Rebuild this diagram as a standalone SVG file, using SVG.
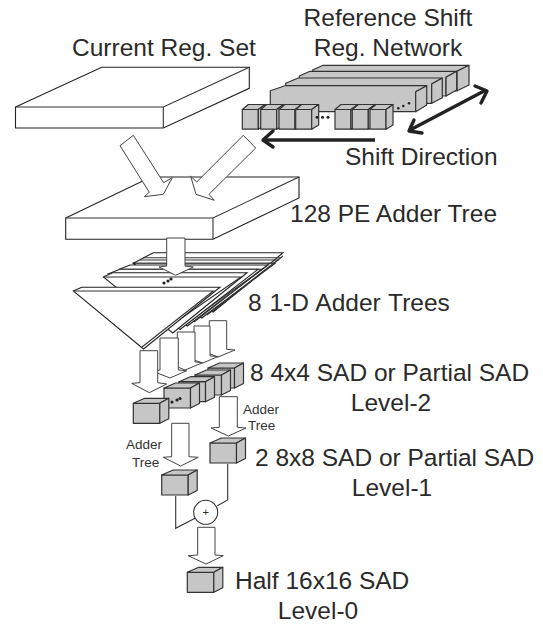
<svg xmlns="http://www.w3.org/2000/svg" width="543" height="624" viewBox="0 0 543 624">
<style>
text{font-family:"Liberation Sans",Arial,sans-serif;font-size:24.5px;fill:#2a2a2a}
.s{font-size:13.5px;fill:#333}
.w{fill:#fff;stroke:#222;stroke-width:1.1;stroke-linejoin:miter}
.a{fill:#fff;stroke:#444;stroke-width:1}
.g{fill:#c6c6c6;stroke:#333;stroke-width:1.2;stroke-linejoin:round}
.l{fill:none;stroke:#333;stroke-width:1.1}
.k{fill:none;stroke:#222;stroke-width:3.4}
.c{fill:none;stroke:#222;stroke-width:3.4;stroke-linecap:round;stroke-linejoin:round}
.d{fill:#222}
</style>
<defs>
<g id="cube"><path class="g" d="M0 0H26.5V20H0Z"/><path class="g" d="M0 0L11.5 -5H35.5L26.5 0Z"/><path class="g" d="M26.5 0L35.5 -5V15.5L26.5 20Z"/></g>
<g id="mini"><path class="g" d="M0 0H16V19.7H0Z"/><path class="g" d="M0 0L6 -5H23L16 0Z"/><path class="g" d="M16 0L23 -5V15.5L16 19.7Z"/></g>
</defs>
<g id="current-reg-set">
<path class="w" d="M15.5 107L101.7 67.3H249.3V88.3L163.3 128H15.5Z"/><path class="l" d="M15.5 107H163.3L249.3 67.3M163.3 107V128"/>
<text x="72" y="56">Current Reg. Set</text>
</g>
<g id="reference-shift-network">
<path class="g" d="M312.7 70L323 65.3H469L457 71.3V91H312.7Z"/><path class="g" d="M457 71.3L469 65.3V85L457 90.7Z"/>
<path class="g" d="M299.3 76L310 71.3H456.7L446 77.3V96H299.3Z"/><path class="g" d="M446 77.3L456.7 71.3V90L446 96Z"/>
<path class="g" d="M285.7 83.3L298.3 78H442.3L431.7 84V103.3H285.7Z"/><path class="g" d="M431.7 84L442.3 78V97.7L431.7 103.3Z"/>
<path class="g" d="M270.3 90.7L285 85.7H426.7L415.7 91.7V111.7H270.3Z"/><path class="g" d="M415.7 91.7L426.7 85.7V105L415.7 111.7Z"/>
<g class="d"><circle cx="398.3" cy="108.3" r="1.3"/><circle cx="403.3" cy="106" r="1.3"/><circle cx="409" cy="103.3" r="1.3"/></g>
<use href="#mini" x="242.3" y="109.5"/><use href="#mini" x="260.7" y="109.5"/><use href="#mini" x="279" y="109.5"/><use href="#mini" x="295.7" y="109.5"/>
<use href="#mini" x="335" y="109.5"/><use href="#mini" x="352.3" y="109.5"/><use href="#mini" x="370" y="109.5"/>
<g class="d"><circle cx="317" cy="117.3" r="1.5"/><circle cx="322.5" cy="117.3" r="1.5"/><circle cx="328" cy="117.3" r="1.5"/></g>
<text x="388" y="26" text-anchor="middle">Reference Shift</text>
<text x="388" y="56" text-anchor="middle">Reg. Network</text>
<text x="345" y="165">Shift Direction</text>
</g>
<g id="adder-tree-128">
<path class="w" d="M65.7 218L151 177H299V198L213 239.3H65.7Z"/><path class="l" d="M65.7 218H213L299 177M213 218V239.3"/>
<text x="290" y="222">128 PE Adder Tree</text>
</g>
<g id="connectors">
<path class="k" d="M375 140L263.5 140"/><path class="c" d="M273 131L263 140L273 147"/>
<path class="k" d="M410 130L486 90"/><path class="c" d="M414 120L409 131L422 133M475 86L487 91L481 103"/>
<path class="a" d="M133.3 135.3L120 145.7L149.3 192.3L144.3 196.7L163.3 194.3L172.3 177.7L163.7 182.7Z"/>
<path class="a" d="M243.3 135.3L255.7 148L209 194.3L214.3 200.3L196 194.3L190.7 176.3L196.7 182Z"/>
<path class="l" d="M175.7 496V528.3L195 518.3M227.7 464V500L217.3 505.7"/>
</g>
<g id="adder-trees-1d">
<path class="w" d="M133.3 263.3L153.3 252.7H283L213 312Z"/>
<path class="l" d="M143 257.7H281M140 260H279M133.3 263.3H275"/>
<path class="w" d="M133.3 263.3H275L201.7 318Z"/>
<path class="w" d="M119.3 269.3L130 265H268L187.3 326Z"/>
<path class="l" d="M119.3 269.3H262L187.3 323"/>
<path class="w" d="M108 274L120 269.3H258L180 329.5Z"/>
<path class="w" d="M103.3 277L112.7 272.7H247L172.7 333Z"/>
<path class="l" d="M103.3 277H241L167 328"/>
<path class="w" d="M73.3 291L81.7 287.3H220L143.5 349Z"/>
<path class="l" d="M73.3 291H213.3L142 347"/>
<path class="l" d="M213 312L283 256M207 315L279 259M194 322L270 263"/>
<g class="d"><circle cx="164" cy="283" r="1.6"/><circle cx="168" cy="281" r="1.6"/><circle cx="171" cy="279" r="1.6"/></g>
<path class="a" d="M166.7 238H185V266L193.3 267L175.7 275.3L159 267L166.7 266Z"/>
<text x="248" y="311" style="word-spacing:1px">8 1-D Adder Trees</text>
</g>
<g id="sad-level-2">
<path class="a" d="M209.3 320.7H226.7V349.3L235 350L218 357L200 350L209.3 349.3Z"/>
<path class="a" d="M194 326H210V356L218.3 356.5L202.7 363L185 357L194 356Z"/>
<path class="a" d="M177.3 332H195V362L202.7 362.7L185 370L168 363L177.3 362Z"/>
<path class="a" d="M160 338H178.3V370L186.7 370.7L170 378L152 371L160 370Z"/>
<path class="a" d="M140 350.7H157.7V382.7L166.7 384L149.3 392.7L131.7 383.3L140 382.7Z"/>
<use href="#cube" x="208" y="368"/><use href="#cube" x="195" y="375"/><use href="#cube" x="179" y="381.7"/>
<use href="#cube" x="164" y="388"/>
<g class="d"><circle cx="172" cy="402" r="1.6"/><circle cx="177" cy="400" r="1.6"/><circle cx="180" cy="398.5" r="1.6"/></g>
<use href="#cube" x="133.3" y="403.3"/>
<text x="250" y="381">8 4x4 SAD or Partial SAD</text>
<text x="391" y="411" text-anchor="middle">Level-2</text>
</g>
<g id="sad-level-1">
<path class="a" d="M219.3 396.7H237.3V427.3L246 428L228.3 436L211 428L219.3 427.3Z"/>
<text class="s" x="243" y="414">Adder</text><text class="s" x="248" y="430">Tree</text>
<path class="a" d="M171.7 423.3H189V456.7L198.3 457.3L180.7 466L163.3 457.3L171.7 456.7Z"/>
<text class="s" x="126" y="449">Adder</text><text class="s" x="132" y="467">Tree</text>
<use href="#cube" x="210" y="443"/>
<text x="255" y="466">2 8x8 SAD or Partial SAD</text>
<text x="392" y="496" text-anchor="middle">Level-1</text>
</g>
<g id="level-1-left"><use href="#cube" x="161.7" y="475"/></g>
<g id="adder"><circle cx="205.7" cy="512.3" r="12" fill="#fff" stroke="#333" stroke-width="1.1"/><text x="205.7" y="516" text-anchor="middle" style="font-size:11px">+</text></g>
<g id="sad-level-0">
<path class="a" d="M197.7 527.3H215V555L223.3 555.7L206 564L188.3 555.7L197.7 555Z"/>
<use href="#cube" x="187.3" y="572.3"/>
<text x="235" y="589">Half 16x16 SAD</text>
<text x="318" y="619" text-anchor="middle">Level-0</text>
</g>
</svg>
